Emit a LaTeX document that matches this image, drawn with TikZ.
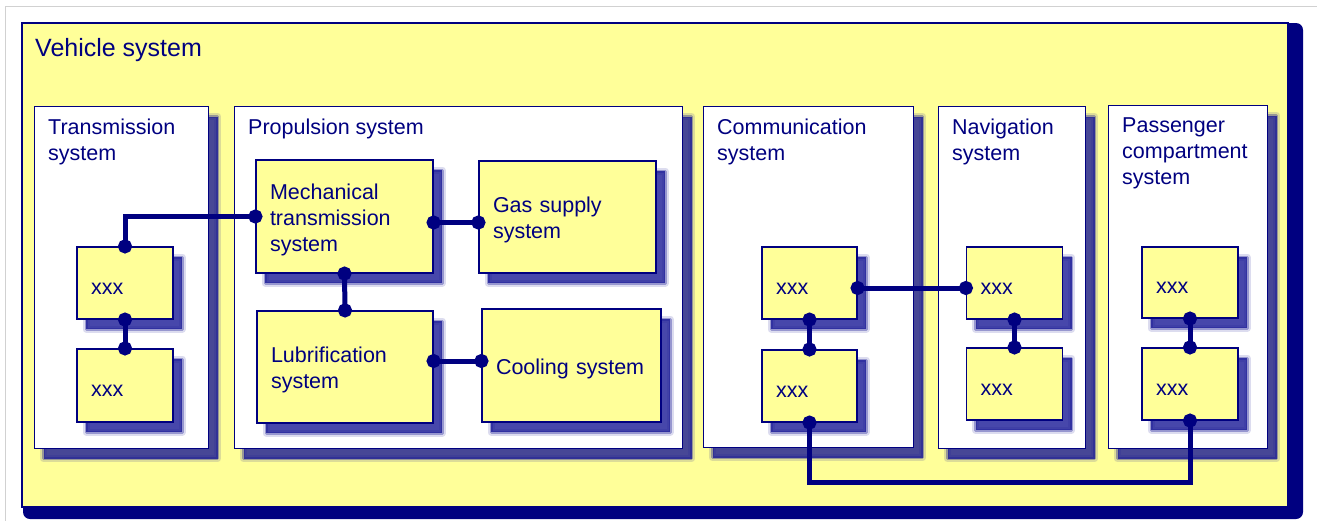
\documentclass[tikz,border=0pt]{standalone}
\usepackage{fontspec}
\setmainfont{Liberation Sans}
\usetikzlibrary{arrows.meta}
\definecolor{sysnavy}{RGB}{0,0,128}
\definecolor{shadownavy}{RGB}{25,25,150}
\definecolor{sysyellow}{RGB}{255,255,153}

\begin{document}
\begin{tikzpicture}[x=1pt, y=-1pt,
  every node/.style={font=\fontsize{21.5}{26}\selectfont, text=sysnavy},
  boxshadow/.style={
    preaction={draw=none, fill=shadownavy, opacity=.8, transform canvas={shift={(9pt,-10pt)}}},
    preaction={draw=shadownavy, fill=none, line width=3pt, line join=round, opacity=.35, transform canvas={shift={(9pt,-10pt)}}},
    preaction={draw=shadownavy, fill=none, line width=7pt, line join=round, opacity=.15, transform canvas={shift={(9pt,-10pt)}}}},
  group/.style={draw=sysnavy, line width=1.2pt, fill=white, boxshadow, anchor=north west, inner sep=0pt},
  part/.style={draw=sysnavy, line width=1.2pt, fill=sysyellow, boxshadow, align=left, inner xsep=14pt, inner ysep=0pt,
    execute at begin node={\rule{0pt}{22pt}}},
  title/.style={anchor=north west, align=left, inner sep=0pt},
  link/.style={draw=sysnavy, line width=5pt, {Circle[length=14pt]}-{Circle[length=14pt]}, shorten <=-7pt, shorten >=-7pt}]
  \useasboundingbox (0,0) rectangle (1317,520);
  \draw[black!18, line width=1pt] (5,530) -- (5,6) -- (1330,6);
  \fill[sysnavy, rounded corners=7pt] (23,23) rectangle (1303,519);
  \node[draw=sysnavy, line width=2pt, fill=sysyellow, anchor=north west, inner sep=0pt, minimum width=1266pt, minimum height=484pt] (vehicle) at (21,22) {};
  \node[title, font=\fontsize{25}{30}\selectfont] (vehicletitle) at ([shift={(14,16)}]vehicle.north west) {Vehicle system};

  \node[group, minimum width=174pt, minimum height=342pt] (trans) at (34,106) {};
  \node[group, minimum width=448pt, minimum height=342pt] (prop) at (234,106) {};
  \node[group, minimum width=210pt, minimum height=341pt] (comm) at (703,106) {};
  \node[group, minimum width=147pt, minimum height=342pt] (nav) at (938,106) {};
  \node[group, minimum width=159pt, minimum height=343pt] (pass) at (1108,105) {};
  \node[title] (transtitle) at ([shift={(14,13)}]trans.north west) {Transmission\\system};
  \node[title] (proptitle) at ([shift={(14,13)}]prop.north west) {Propulsion system};
  \node[title] (commtitle) at ([shift={(14,13)}]comm.north west) {Communication\\system};
  \node[title] (navtitle) at ([shift={(14,13)}]nav.north west) {Navigation\\system};
  \node[title] (passtitle) at ([shift={(14,13)}]pass.north west) {Passenger\\compartment\\system};

  \node[part, text width=68pt, minimum height=72pt] (t1) at (125,283) {xxx};
  \node[part, text width=68pt, minimum height=73pt] (t2) at (125,385.5) {xxx};
  \node[part, text width=149pt, minimum height=113pt] (mech) at (344.5,216.5) {Mechanical\\transmission\\system};
  \node[part, text width=148pt, minimum height=112pt] (lub) at (345,367) {Lubrification\\system};
  \node[part, text width=149pt, minimum height=112pt] (gas) at (567.5,217) {Gas supply\\system};
  \node[part, text width=151pt, minimum height=113pt] (cool) at (571.5,365.5) {Cooling system};
  \node[part, text width=67pt, minimum height=72pt] (c1) at (809.5,283) {xxx};
  \node[part, text width=67pt, minimum height=72pt] (c2) at (809.5,386) {xxx};
  \node[part, text width=68pt, minimum height=72pt] (n1) at (1014.5,283) {xxx};
  \node[part, text width=68pt, minimum height=72pt] (n2) at (1014.5,384) {xxx};
  \node[part, text width=68pt, minimum height=71pt] (p1) at (1190,282.5) {xxx};
  \node[part, text width=68pt, minimum height=72pt] (p2) at (1190,384) {xxx};

  \draw[link] (t1.north) |- (mech.west);
  \draw[link] (t1.south) -- (t2.north);
  \draw[link] (mech.south) -- (lub.north);
  \draw[link] ([yshift=-6pt]mech.east) -- ([yshift=-6pt]mech.east -| gas.west);
  \draw[link] ([yshift=6pt]lub.east) -- ([yshift=6pt]lub.east -| cool.west);
  \draw[link] ([yshift=-5pt]c1.east) -- ([yshift=-5pt]c1.east -| n1.west);
  \draw[link] (c1.south) -- (c2.north);
  \draw[link] (n1.south) -- (n2.north);
  \draw[link] (p1.south) -- (p2.north);
  \draw[link] (c2.south) -- ++(0,60) -| (p2.south);
\end{tikzpicture}
\end{document}
